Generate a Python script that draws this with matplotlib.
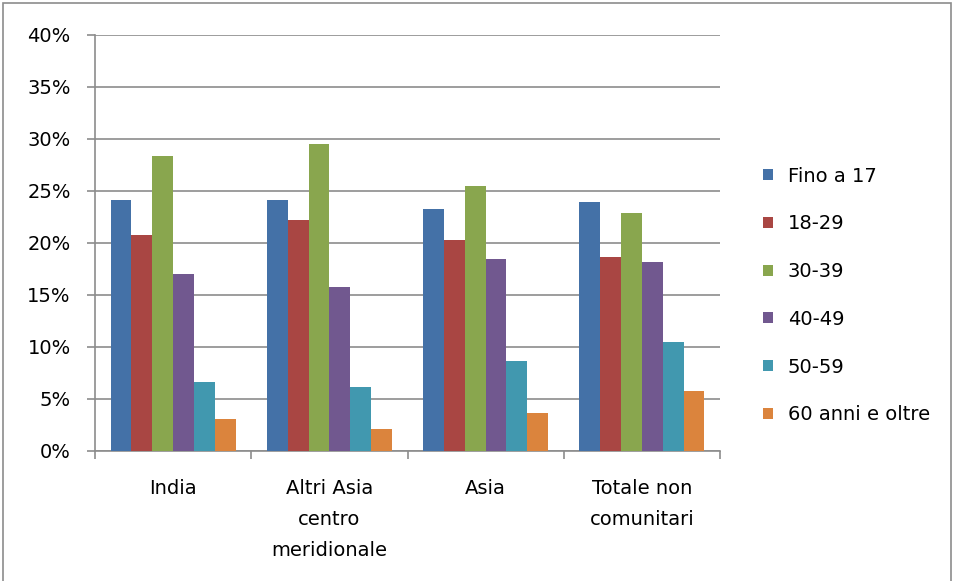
import numpy as np
import matplotlib.pyplot as plt
from matplotlib.patches import Rectangle

categories = ['India', 'Altri Asia\ncentro\nmeridionale', 'Asia', 'Totale non\ncomunitari']
series = ['Fino a 17', '18-29', '30-39', '40-49', '50-59', '60 anni e oltre']
values = {
    'Fino a 17':       [24.1, 24.1, 23.3, 23.9],
    '18-29':           [20.8, 22.2, 20.3, 18.7],
    '30-39':           [28.4, 29.5, 25.5, 22.9],
    '40-49':           [17.0, 15.8, 18.5, 18.2],
    '50-59':           [6.6, 6.2, 8.7, 10.5],
    '60 anni e oltre': [3.1, 2.1, 3.7, 5.8],
}
colors = ['#4471A7', '#A94643', '#89A64E', '#71588F', '#4198AF', '#DB843D']

fs = 14
fig = plt.figure(figsize=(9.54, 5.81), dpi=100)
ax = fig.add_axes([95/954, 130/581, 625/954, 416/581])

x = np.arange(len(categories))
w = 1 / 7.5
for i, s in enumerate(series):
    ax.bar(x - 2.5*w + i*w, values[s], width=w, color=colors[i], label=s, zorder=3)

ax.set_xlim(-0.5, len(categories) - 0.5)
ax.set_ylim(0, 40)
ax.set_yticks(range(0, 41, 5))
ax.set_yticklabels([f'{v}%' for v in range(0, 41, 5)], fontsize=fs)
ax.yaxis.grid(True, color='#8c8c8c', linewidth=1.2, zorder=0)

ax.set_xticks(np.arange(-0.5, len(categories), 1))
ax.set_xticklabels([])
ax.set_xticks(x, minor=True)
ax.set_xticklabels(categories, minor=True, fontsize=fs, linespacing=1.8, va='top')
ax.tick_params(axis='x', which='minor', length=0, pad=20)
ax.tick_params(axis='x', which='major', length=6, color='#8c8c8c', width=1.2)
ax.tick_params(axis='y', length=6, color='#8c8c8c', width=1.2, pad=11.5)

for sp in ['top', 'right']:
    ax.spines[sp].set_visible(False)
for sp in ['left', 'bottom']:
    ax.spines[sp].set_color('#8c8c8c')
    ax.spines[sp].set_linewidth(1.2)

fig.legend(loc='upper left', bbox_to_anchor=(746/954, 1 - 149/581), frameon=False,
           fontsize=fs, handlelength=0.5, handleheight=0.5, handletextpad=0.75,
           labelspacing=1.48)

fig.patches.append(Rectangle((0.003, -0.01), 0.994, 1.005, transform=fig.transFigure,
                             fill=False, edgecolor='#8c8c8c', linewidth=1.2))

fig.savefig('out.png', dpi=100)
